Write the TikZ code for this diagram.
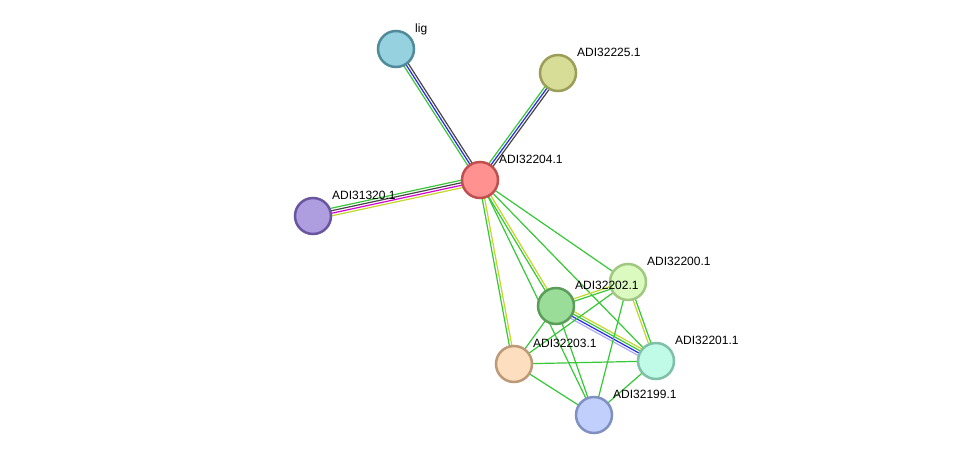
\documentclass[tikz,border=0pt]{standalone}
\usepackage{fontspec}
\setmainfont{Liberation Sans}
\usetikzlibrary{calc,backgrounds}

\definecolor{evgreen}{RGB}{55,200,55}
\definecolor{evyellow}{RGB}{195,215,40}
\definecolor{evblue}{RGB}{40,40,235}
\definecolor{evdark}{RGB}{70,70,70}
\definecolor{evmagenta}{RGB}{215,0,215}
\definecolor{evlav}{RGB}{170,170,250}

\tikzset{
  protein/.style={circle, draw, line width=2.5pt, minimum size=36pt, inner sep=0pt},
  plabel/.style={anchor=base west, inner sep=0pt, font=\fontsize{12}{14}\selectfont},
  link/.style={line width=1.2pt}
}
% one coloured strand between two proteins, shifted sideways by #3
\newcommand{\pplink}[4]{\draw[link,#4] ($(#1)!#3!90:(#2)$) -- ($(#2)!#3!-90:(#1)$);}

\begin{document}
\begin{tikzpicture}[x=1pt,y=-1pt]

\useasboundingbox (0,0) rectangle (975,461);

% proteins
\node[protein, fill={rgb,255:red,150;green,209;blue,224}, draw={rgb,255:red,80;green,138;blue,155}] (lig) at (396,49) {};
\node[protein, fill={rgb,255:red,215;green,221;blue,150}, draw={rgb,255:red,155;green,158;blue,88}] (n225) at (558,73) {};
\node[protein, fill={rgb,255:red,255;green,145;blue,145}, draw={rgb,255:red,192;green,80;blue,80}] (n204) at (480,180) {};
\node[protein, fill={rgb,255:red,174;green,158;blue,224}, draw={rgb,255:red,105;green,85;blue,160}] (n31320) at (313,216) {};
\node[protein, fill={rgb,255:red,219;green,250;blue,192}, draw={rgb,255:red,160;green,200;blue,128}] (n200) at (628,282) {};
\node[protein, fill={rgb,255:red,153;green,221;blue,153}, draw={rgb,255:red,90;green,158;blue,90}] (n202) at (556,306) {};
\node[protein, fill={rgb,255:red,253;green,223;blue,192}, draw={rgb,255:red,188;green,154;blue,120}] (n203) at (514,364) {};
\node[protein, fill={rgb,255:red,192;green,251;blue,232}, draw={rgb,255:red,128;green,192;blue,168}] (n201) at (656,361) {};
\node[protein, fill={rgb,255:red,192;green,207;blue,252}, draw={rgb,255:red,128;green,144;blue,192}] (n199) at (594,415) {};

% labels
\node[plabel] (llig) at (415,32) {lig};
\node[plabel] (l225) at (577,56) {ADI32225.1};
\node[plabel] (l204) at (499,163) {ADI32204.1};
\node[plabel] (l31320) at (332,199) {ADI31320.1};
\node[plabel] (l200) at (647,265) {ADI32200.1};
\node[plabel] (l202) at (575,289) {ADI32202.1};
\node[plabel] (l203) at (533,347) {ADI32203.1};
\node[plabel] (l201) at (675,344) {ADI32201.1};
\node[plabel] (l199) at (613,398) {ADI32199.1};

\begin{scope}[on background layer]
\fill[white] (0,0) rectangle (975,461);

% hub links
\pplink{lig}{n204}{-2.5pt}{evgreen}
\pplink{lig}{n204}{0pt}{evblue}
\pplink{lig}{n204}{2.5pt}{evdark}
\pplink{n225}{n204}{-2.5pt}{evgreen}
\pplink{n225}{n204}{0pt}{evblue}
\pplink{n225}{n204}{2.5pt}{evdark}
\pplink{n31320}{n204}{3.75pt}{evgreen}
\pplink{n31320}{n204}{1.25pt}{evdark}
\pplink{n31320}{n204}{-1.25pt}{evmagenta}
\pplink{n31320}{n204}{-3.75pt}{evyellow}
\pplink{n204}{n202}{-1.25pt}{evgreen}
\pplink{n204}{n202}{1.25pt}{evyellow}
\pplink{n204}{n203}{-1.25pt}{evgreen}
\pplink{n204}{n203}{1.25pt}{evyellow}
\pplink{n204}{n200}{0pt}{evgreen}
\pplink{n204}{n201}{0pt}{evgreen}
\pplink{n204}{n199}{0pt}{evgreen}

% cluster links
\pplink{n202}{n201}{3.75pt}{evyellow}
\pplink{n202}{n201}{1.25pt}{evgreen}
\pplink{n202}{n201}{-1.25pt}{evblue}
\pplink{n202}{n201}{-3.75pt}{evlav}
\pplink{n202}{n200}{1.25pt}{evyellow}
\pplink{n202}{n200}{-1.25pt}{evgreen}
\pplink{n202}{n203}{0pt}{evgreen}
\pplink{n202}{n199}{0pt}{evgreen}
\pplink{n200}{n201}{-1.25pt}{evyellow}
\pplink{n200}{n201}{1.25pt}{evgreen}
\pplink{n200}{n203}{0pt}{evgreen}
\pplink{n200}{n199}{0pt}{evgreen}
\pplink{n203}{n201}{0pt}{evgreen}
\pplink{n203}{n199}{0pt}{evgreen}
\pplink{n201}{n199}{0pt}{evgreen}
\end{scope}

\end{tikzpicture}
\end{document}
